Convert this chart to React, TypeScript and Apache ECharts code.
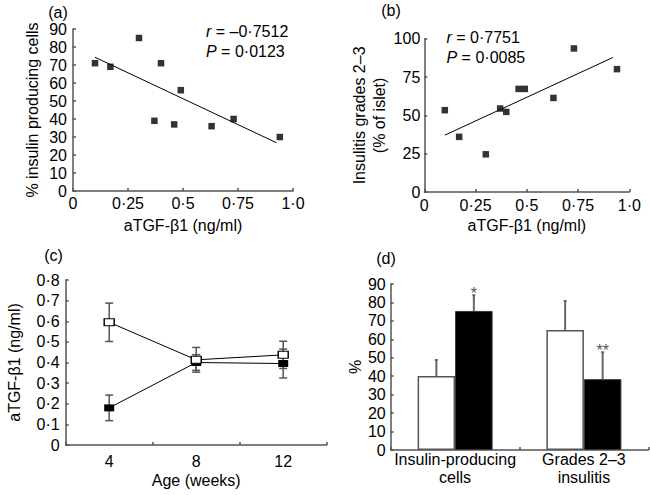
import React, { useEffect, useRef } from "react";
import * as echarts from "echarts";

// ---- Data ----
const tgfA = [0.10, 0.17, 0.30, 0.37, 0.40, 0.46, 0.49, 0.63, 0.73, 0.94];
const insulinPct = [71, 69, 85, 39, 71, 37, 56, 36, 40, 30];
const trendA = [[0.10, 74.3], [0.925, 26.8]];

const insulitisPct = [53.4, 36, 24.6, 54.5, 52.3, 67.3, 67.3, 61.4, 93.7, 80.2];
const trendB = [[0.10, 37.1], [0.92, 87.8]];

const ages = ["4", "8", "12"];
const openTGF = [0.595, 0.413, 0.437];
const openTGFErr = [0.093, 0.06, 0.066];
const filledTGF = [0.18, 0.40, 0.395];
const filledTGFErr = [0.062, 0.038, 0.07];

const barCats = ["Insulin-producing\ncells", "Grades 2\u20133\ninsulitis"];
const openBars = [40.1, 65.1];
const openBarErr = [8.7, 15.7];
const filledBars = [75.4, 38.4];
const filledBarErr = [8.5, 14.6];
const stars = ["*", "**"];

const FONT = "'Liberation Sans', Arial, Helvetica, sans-serif";
const AX = "#555";

function decLabel(v: number) {
  const r = Number(v.toFixed(3));
  if (r === 0) return "0";
  if (r === 1) return "1\u00b70";
  return String(r).replace(".", "\u00b7");
}

function axisBase(extra: any = {}) {
  return {
    axisLine: { show: true, onZero: false, lineStyle: { color: AX, width: 1.5 } },
    axisTick: { show: true, inside: true, length: 3, lineStyle: { color: AX, width: 1.5 } },
    splitLine: { show: false },
    nameTextStyle: { color: "#000", fontSize: 16, fontFamily: FONT },
    ...extra,
    axisLabel: { color: "#000", fontSize: 16, fontFamily: FONT, ...(extra.axisLabel || {}) },
  };
}

export default function App() {
  const ref = useRef<HTMLDivElement>(null);

  useEffect(() => {
    if (!ref.current) return;
    const chart = echarts.init(ref.current, null, { renderer: "svg" });

    const errBarsC = (cap: number) => (params: any, api: any) => {
      const i = api.value(0);
      const v = api.value(1);
      const e = api.value(2);
      const top = api.coord([i, v + e]);
      const bot = api.coord([i, v - e]);
      const x = top[0];
      const st = { stroke: "#555", lineWidth: 1.5 };
      return {
        type: "group",
        children: [
          { type: "line", shape: { x1: x, y1: top[1], x2: x, y2: bot[1] }, style: st },
          { type: "line", shape: { x1: x - cap, y1: top[1], x2: x + cap, y2: top[1] }, style: st },
          { type: "line", shape: { x1: x - cap, y1: bot[1], x2: x + cap, y2: bot[1] }, style: st },
        ],
      };
    };

    const barW = 37.5;
    const errBarsD = (shift: number, labels: string[] | null) => (params: any, api: any) => {
      const i = api.value(0);
      const v = api.value(1);
      const e = api.value(2);
      const base = api.coord([i, v]);
      const top = api.coord([i, v + e]);
      const x = base[0] + shift;
      const st = { stroke: "#666", lineWidth: 2 };
      const children: any[] = [
        { type: "line", shape: { x1: x, y1: base[1], x2: x, y2: top[1] }, style: st },
        { type: "line", shape: { x1: x - 1.5, y1: top[1], x2: x + 1.5, y2: top[1] }, style: st },
      ];
      if (labels && labels[params.dataIndex]) {
        children.push({
          type: "text",
          style: {
            text: labels[params.dataIndex],
            x: x,
            y: top[1] - 2,
            align: "center",
            verticalAlign: "middle",
            fontSize: 16,
            fontFamily: FONT,
            fill: "#555",
          },
        });
      }
      return { type: "group", children };
    };

    const textStyle = (t: string, x: number, y: number, align = "left") => ({
      type: "text",
      x,
      y,
      style: {
        text: t,
        fontSize: 16,
        fontFamily: FONT,
        fill: "#000",
        align,
        verticalAlign: "middle",
        rich: {
          i: { fontStyle: "italic", fontSize: 16, fontFamily: FONT, fill: "#000" },
        },
      },
    });

    const option: any = {
      animation: false,
      backgroundColor: "#fff",
      grid: [
        { left: 73, top: 29, width: 220, height: 162, outerBoundsMode: "none" },
        { left: 424.3, top: 38.8, width: 205, height: 153.2, outerBoundsMode: "none" },
        { left: 65.7, top: 280, width: 261, height: 165, outerBoundsMode: "none" },
        { left: 390.7, top: 284, width: 257.6, height: 166, outerBoundsMode: "none" },
      ],
      xAxis: [
        axisBase({
          gridIndex: 0, type: "value", min: 0, max: 1, interval: 0.25,
          name: "aTGF-\u03b21 (ng/ml)", nameLocation: "middle", nameGap: 26,
          axisLabel: { margin: 4, formatter: decLabel },
        }),
        axisBase({
          gridIndex: 1, type: "value", min: 0, max: 1, interval: 0.25,
          name: "aTGF-\u03b21 (ng/ml)", nameLocation: "middle", nameGap: 25.5,
          axisLabel: { margin: 5, formatter: decLabel },
        }),
        axisBase({
          gridIndex: 2, type: "category", data: ages, boundaryGap: true,
          name: "Age (weeks)", nameLocation: "middle", nameGap: 27.5,
          axisLabel: { margin: 8 },
        }),
        axisBase({
          gridIndex: 3, type: "category", data: barCats, boundaryGap: true,
          axisLabel: { margin: 0, lineHeight: 18, interval: 0 },
        }),
      ],
      yAxis: [
        axisBase({
          gridIndex: 0, type: "value", min: 0, max: 90, interval: 10,
          name: "% insulin producing cells", nameLocation: "middle", nameRotate: 90, nameGap: 33,
          axisLabel: { margin: 6 },
        }),
        axisBase({
          gridIndex: 1, type: "value", min: 0, max: 100, interval: 25,
          name: "Insulitis grades 2\u20133\n(% of islet)", nameLocation: "middle", nameRotate: 90, nameGap: 23,
          nameTextStyle: { color: "#000", fontSize: 16, fontFamily: FONT, lineHeight: 20 },
          axisLabel: { margin: 4 },
        }),
        axisBase({
          gridIndex: 2, type: "value", min: 0, max: 0.8, interval: 0.1,
          name: "aTGF-\u03b21 (ng/ml)", nameLocation: "middle", nameRotate: 90, nameGap: 43.5,
          axisLabel: { margin: 6, formatter: (v: number) => (v === 0 ? "0" : v.toFixed(1).replace(".", "\u00b7")) },
        }),
        axisBase({
          gridIndex: 3, type: "value", min: 0, max: 90, interval: 10,
          name: "%", nameLocation: "middle", nameRotate: 90, nameGap: 27.5,
          axisLabel: { margin: 5 },
        }),
      ],
      series: [
        // (a)
        {
          type: "scatter", xAxisIndex: 0, yAxisIndex: 0, symbol: "rect", symbolSize: 6.5,
          itemStyle: { color: "#000" }, z: 3,
          data: tgfA.map((x, i) => [x, insulinPct[i]]),
        },
        {
          type: "line", xAxisIndex: 0, yAxisIndex: 0, showSymbol: false, symbol: "none",
          lineStyle: { color: "#000", width: 1 }, data: trendA, z: 2,
        },
        // (b)
        {
          type: "scatter", xAxisIndex: 1, yAxisIndex: 1, symbol: "rect", symbolSize: 6.5,
          itemStyle: { color: "#000" }, z: 3,
          data: tgfA.map((x, i) => [x, insulitisPct[i]]),
        },
        {
          type: "line", xAxisIndex: 1, yAxisIndex: 1, showSymbol: false, symbol: "none",
          lineStyle: { color: "#000", width: 1 }, data: trendB, z: 2,
        },
        // (c) error bars
        {
          type: "custom", xAxisIndex: 2, yAxisIndex: 2, z: 1, encode: { x: 0, y: 1 },
          renderItem: errBarsC(4),
          data: ages.map((_, i) => [i, openTGF[i], openTGFErr[i]]),
        },
        {
          type: "custom", xAxisIndex: 2, yAxisIndex: 2, z: 1, encode: { x: 0, y: 1 },
          renderItem: errBarsC(4),
          data: ages.map((_, i) => [i, filledTGF[i], filledTGFErr[i]]),
        },
        {
          type: "line", xAxisIndex: 2, yAxisIndex: 2, symbol: "rect", symbolSize: [10, 7], showSymbol: true,
          lineStyle: { color: "#000", width: 1 },
          itemStyle: { color: "#000" }, z: 3,
          data: filledTGF,
        },
        {
          type: "line", xAxisIndex: 2, yAxisIndex: 2, symbol: "rect", symbolSize: [10, 7], showSymbol: true,
          lineStyle: { color: "#000", width: 1 },
          itemStyle: { color: "#fff", borderColor: "#000", borderWidth: 1.2 }, z: 4,
          data: openTGF,
        },
        // (d) bars
        {
          type: "bar", xAxisIndex: 3, yAxisIndex: 3, barWidth: barW, barGap: "0%",
          itemStyle: { color: "#fff", borderColor: "#555", borderWidth: 1.5 },
          data: openBars, z: 2,
        },
        {
          type: "bar", xAxisIndex: 3, yAxisIndex: 3, barWidth: barW, barGap: "0%",
          itemStyle: { color: "#000", borderColor: "#333", borderWidth: 1 },
          data: filledBars, z: 2,
        },
        {
          type: "custom", xAxisIndex: 3, yAxisIndex: 3, z: 3, encode: { x: 0, y: 1 },
          renderItem: errBarsD(-barW / 2, null),
          data: barCats.map((_, i) => [i, openBars[i], openBarErr[i]]),
        },
        {
          type: "custom", xAxisIndex: 3, yAxisIndex: 3, z: 3, encode: { x: 0, y: 1 },
          renderItem: errBarsD(barW / 2, stars),
          data: barCats.map((_, i) => [i, filledBars[i], filledBarErr[i]]),
        },
      ],
      graphic: [
        textStyle("(a)", 58, 12, "center"),
        textStyle("(b)", 391, 10, "center"),
        textStyle("(c)", 53.5, 255, "center"),
        textStyle("(d)", 386, 258.5, "center"),
        textStyle("{i|r} = \u20130\u00b77512", 206, 31.8),
        textStyle("{i|P} = 0\u00b70123", 206, 51.8),
        textStyle("{i|r} = 0\u00b77751", 446.5, 37.2),
        textStyle("{i|P} = 0\u00b70085", 446.5, 57.6),
      ],
    };

    chart.setOption(option);
    return () => chart.dispose();
  }, []);

  return (
    <div
      ref={ref}
      style={{ position: "absolute", left: 0, top: 0, width: 650, height: 495, background: "#fff" }}
    />
  );
}
